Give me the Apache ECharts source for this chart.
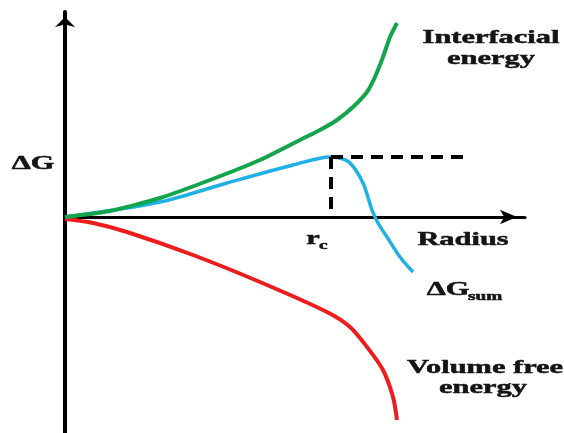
<!DOCTYPE html>
<html>
<head>
<meta charset="utf-8">
<script src="https://cdn.jsdelivr.net/npm/echarts@6/dist/echarts.min.js"></script>
<style>
  html, body { margin: 0; padding: 0; background: #fff; }
  #chart { width: 564px; height: 433px; }
</style>
</head>
<body>
<div id="chart"></div>
<script>
// Nucleation free-energy sketch: surface term, volume term and their sum vs. radius
const interfacialR = [0, 0.9, 1.9, 2.9, 3.9, 4.7, 5.1, 5.44, 5.76, 6.04, 6.2, 6.36, 6.5, 6.64];
const interfacialG = [0, 0.12, 0.38, 0.74, 1.14, 1.54, 1.74, 1.94, 2.2, 2.5, 2.8, 3.2, 3.6, 3.88];

const volumeR = [0, 0.56, 1.24, 2.56, 3.9, 5.24, 5.7, 6.04, 6.36, 6.56, 6.64];
const volumeG = [-0.04, -0.12, -0.3, -0.76, -1.3, -1.9, -2.2, -2.6, -3.06, -3.6, -4.06];

const sumR = [0, 1.9, 3.24, 4.56, 5.3, 5.45, 5.7, 5.96, 6.14, 6.26, 6.44, 6.7, 6.96];
const sumG = [0, 0.3, 0.68, 1.04, 1.2, 1.19, 1.08, 0.68, 0.14, -0.12, -0.4, -0.8, -1.1];

// critical radius and barrier height
const rc = 5.32;
const barrier = 1.2;
const barrierLineEnd = 8.0;

const pairs = (xs, ys) => xs.map((x, i) => [x, ys[i]]);

const labelFont = 'bold 19px "Liberation Serif", "Times New Roman", serif';
const subFont = 'bold 12px "Liberation Serif", "Times New Roman", serif';
const ink = '#141414';
const stretch = 1.6;

function label(text, x, y, font, align) {
  return {
    type: 'text', x: x, y: y, scaleX: stretch, scaleY: 1, z: 10,
    style: {
      text: text, font: font || labelFont, fill: ink, stroke: ink, lineWidth: 0.5,
      textAlign: align || 'center', textVerticalAlign: 'middle'
    }
  };
}

const chart = echarts.init(document.getElementById('chart'), null, { renderer: 'canvas' });
chart.setOption({
  animation: false,
  backgroundColor: '#ffffff',
  grid: { left: 65, right: 39, top: 12, bottom: 0, containLabel: false },
  xAxis: {
    type: 'value', min: 0, max: 9.2,
    axisLine: { show: true, onZero: true, symbol: ['none', 'arrow'], symbolSize: [11, 17], symbolOffset: [0, -8],
      lineStyle: { color: '#000', width: 3 } },
    axisTick: { show: false }, axisLabel: { show: false }, splitLine: { show: false }
  },
  yAxis: {
    type: 'value', min: -4.32, max: 4.1,
    axisLine: { show: true, onZero: true, symbol: ['none', 'arrow'], symbolSize: [15, 10], symbolOffset: [0, -5],
      lineStyle: { color: '#000', width: 4 } },
    axisTick: { show: false }, axisLabel: { show: false }, splitLine: { show: false }
  },
  series: [
    {
      name: 'Volume free energy', type: 'line', data: pairs(volumeR, volumeG),
      smooth: 0.3, showSymbol: false, lineStyle: { color: '#ee1d1d', width: 4 }, z: 3
    },
    {
      name: 'ΔGsum', type: 'line', data: pairs(sumR, sumG),
      smooth: 0.3, showSymbol: false, lineStyle: { color: '#1fb0e6', width: 3.5 }, z: 4,
      markLine: {
        silent: true, symbol: ['none', 'none'], label: { show: false },
        lineStyle: { color: '#000', width: 4, type: [12, 8] },
        data: [
          [{ coord: [rc, barrier] }, { coord: [barrierLineEnd, barrier] }],
          [{ coord: [rc, barrier] }, { coord: [rc, 0] }]
        ]
      }
    },
    {
      name: 'Interfacial energy', type: 'line', data: pairs(interfacialR, interfacialG),
      smooth: 0.2, showSymbol: false, lineStyle: { color: '#13a54b', width: 4 }, z: 5
    }
  ],
  graphic: [
    label('Interfacial', 491, 38),
    label('energy', 491, 59),
    label('ΔG', 33, 164),
    label('Radius', 463, 240),
    label('r', 313, 239),
    label('c', 319, 246, subFont, 'left'),
    label('ΔG', 448, 290),
    label('sum', 468, 297, subFont, 'left'),
    label('Volume free', 485, 368),
    label('energy', 483, 388)
  ]
});
</script>
</body>
</html>
